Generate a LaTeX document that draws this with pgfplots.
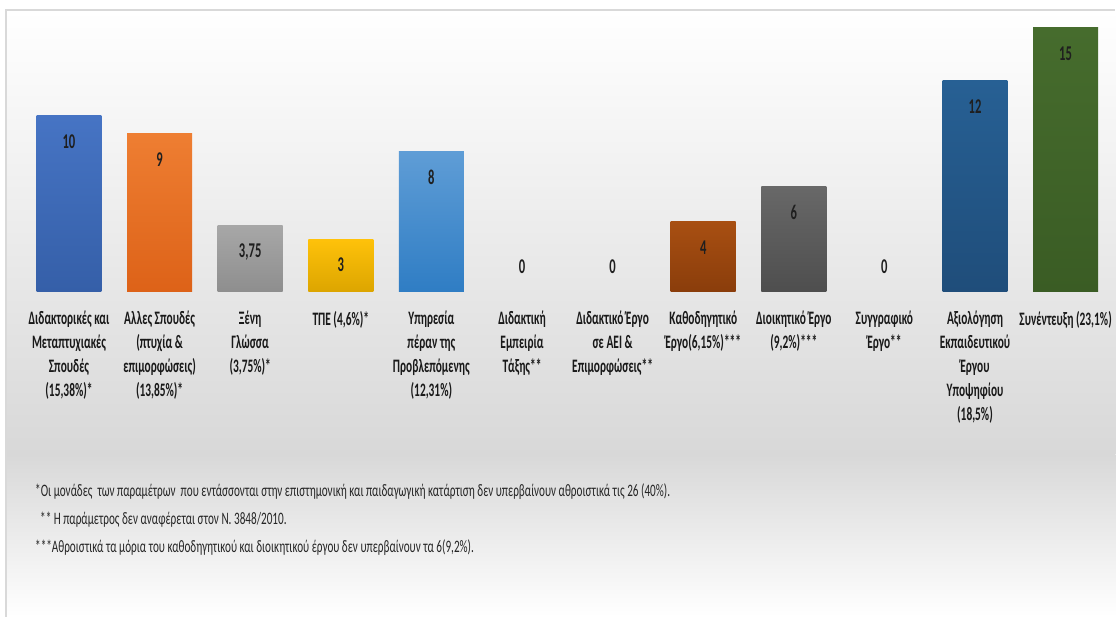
\documentclass[border=0pt]{standalone}
\usepackage{fontspec}
\setmainfont{Carlito}[FakeStretch=0.6]
\newfontfamily\notefont{Carlito}[FakeStretch=0.64]
\usepackage{pgfplots}
\pgfplotsset{compat=1.18}

\definecolor{c1t}{HTML}{4674C4}\definecolor{c1b}{HTML}{355FA8}
\definecolor{c2t}{HTML}{EE7E32}\definecolor{c2b}{HTML}{DD6218}
\definecolor{c3t}{HTML}{A7A7A7}\definecolor{c3b}{HTML}{8E8E8E}
\definecolor{c4t}{HTML}{FFC20A}\definecolor{c4b}{HTML}{DCA500}
\definecolor{c5t}{HTML}{5F9DD6}\definecolor{c5b}{HTML}{2F7DC4}
\definecolor{c8t}{HTML}{A84F12}\definecolor{c8b}{HTML}{8A3D0B}
\definecolor{c9t}{HTML}{686868}\definecolor{c9b}{HTML}{4E4E4E}
\definecolor{c11t}{HTML}{276094}\definecolor{c11b}{HTML}{1F4D7A}
\definecolor{c12t}{HTML}{466C2D}\definecolor{c12b}{HTML}{3A5C24}
\definecolor{bgmid}{HTML}{D8D8D8}

\pgfplotsset{
  bar/.style 2 args={ybar, bar width=65pt, bar shift=0pt, draw=none,
    top color=#1, bottom color=#2,
    nodes near coords, point meta=explicit symbolic,
    every node near coord/.append style={anchor=center, yshift=-26pt,
      font=\bfseries\fontsize{21}{21}\selectfont, text=black!88}},
}

\begin{document}
\begin{tikzpicture}
\path (0pt,0pt) rectangle (1116pt,617pt);
% background: white at top, grey band under the labels, white again at the bottom
\fill[top color=white, bottom color=bgmid] (6pt,162pt) rectangle (1116pt,607pt);
\fill[top color=bgmid, bottom color=white] (6pt,0pt) rectangle (1116pt,162.5pt);
\draw[black!15, line width=1.2pt] (6pt,0pt) -- (6pt,607pt) -- (1116pt,607pt);

\begin{axis}[
  at={(23.7pt,325pt)}, anchor=south west,
  scale only axis, width=1087.8pt, height=281.6pt,
  xmin=-0.5, xmax=11.5, ymin=0, ymax=16,
  axis line style={draw=none}, tick style={draw=none},
  ytick=\empty, xtick={0,...,11},
  xticklabels={
    {Διδακτορικές και\\Μεταπτυχιακές\\Σπουδές\\(15,38\%)*},
    {Αλλες Σπουδές\\(πτυχία \&\\επιμορφώσεις)\\(13,85\%)*},
    {Ξένη\\Γλώσσα\\(3,75\%)*},
    {ΤΠΕ (4,6\%)*},
    {Υπηρεσία\\πέραν της\\Προβλεπόμενης\\(12,31\%)},
    {Διδακτική\\Εμπειρία\\Τάξης**},
    {Διδακτικό Έργο\\σε ΑΕΙ \&\\Επιμορφώσεις**},
    {Καθοδηγητικό\\Έργο(6,15\%)***},
    {Διοικητικό Έργο\\(9,2\%)***},
    {Συγγραφικό\\Έργο**},
    {Αξιολόγηση\\Εκπαιδευτικού\\Έργου\\Υποψηφίου\\(18,5\%)},
    {Συνέντευξη (23,1\%)}},
  xticklabel style={align=center, font=\bfseries\fontsize{19}{24}\selectfont,
    anchor=north, inner sep=0pt, yshift=-19pt, text=black!90},
  clip=false,
]
\addplot[bar={c1t}{c1b}] coordinates {(0,10) [10]};
\addplot[bar={c2t}{c2b}] coordinates {(1,9) [9]};
\addplot[bar={c3t}{c3b}] coordinates {(2,3.75) [{3,75}]};
\addplot[bar={c4t}{c4b}] coordinates {(3,3) [3]};
\addplot[bar={c5t}{c5b}] coordinates {(4,8) [8]};
\addplot[bar={c8t}{c8b}] coordinates {(7,4) [4]};
\addplot[bar={c9t}{c9b}] coordinates {(8,6) [6]};
\addplot[bar={c11t}{c11b}] coordinates {(10,12) [12]};
\addplot[bar={c12t}{c12b}] coordinates {(11,15) [15]};
% zero categories: label only
\addplot[draw=none, mark=none, nodes near coords, point meta=explicit symbolic,
  every node near coord/.append style={anchor=center, yshift=25pt,
    font=\bfseries\fontsize{21}{21}\selectfont, text=black!88}]
  coordinates {(5,0) [0] (6,0) [0] (9,0) [0]};
\end{axis}

\begin{scope}[every node/.style={anchor=west, inner sep=0pt, text=black!85,
    font=\notefont\fontsize{17.5}{17.5}\selectfont}]
\node at (35pt,125pt) {*Οι μονάδες\ \ των παραμέτρων\ \ που εντάσσονται στην επιστημονική και παιδαγωγική κατάρτιση δεν υπερβαίνουν αθροιστικά τις 26 (40\%).};
\node at (40pt,97pt) {** Η παράμετρος δεν αναφέρεται στον Ν. 3848/2010.};
\node at (35pt,69pt) {***Αθροιστικά τα μόρια του καθοδηγητικού και διοικητικού έργου δεν υπερβαίνουν τα 6(9,2\%).};
\end{scope}
\end{tikzpicture}
\end{document}
